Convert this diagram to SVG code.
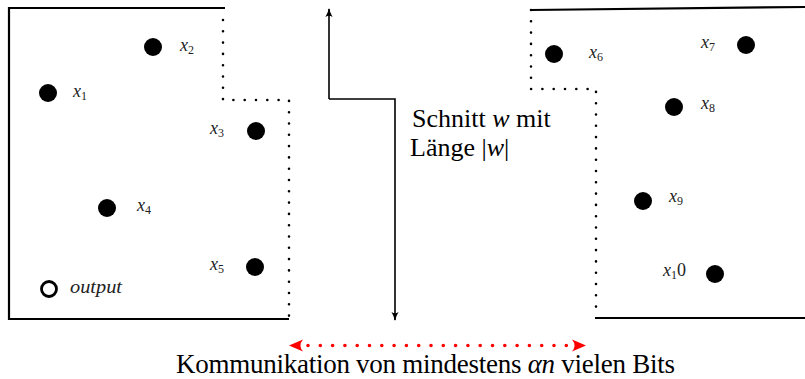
<svg xmlns="http://www.w3.org/2000/svg" width="805" height="379" viewBox="0 0 805 379">
<style>
.frame{fill:none;stroke:#000;stroke-width:2.2}
.dots{fill:none;stroke:#000;stroke-width:2.6;stroke-linecap:round;stroke-dasharray:0 11.3}
.node{fill:#000}
.lbl{font-family:"Liberation Serif",serif;font-style:italic;font-size:18px;fill:#222}
.sub{font-size:12px;font-style:normal}
.txt{font-family:"Liberation Serif",serif;font-size:27px;fill:#000}
.cut-txt{font-family:"Liberation Serif",serif;font-size:26px;fill:#000}
.m{font-style:italic}
.cut{fill:none;stroke:#000;stroke-width:1.6}
.red{fill:none;stroke:#f00;stroke-width:3.6;stroke-linecap:round;stroke-dasharray:0 12.3}
</style>
<defs>
<marker id="ah" viewBox="0 0 10 10" refX="9" refY="5" markerWidth="9" markerHeight="9" markerUnits="userSpaceOnUse" orient="auto">
<path d="M0,1 Q5,4 10,5 Q5,6 0,9 Q3,5 0,1 Z" fill="#000"/>
</marker>
</defs>
<g id="left-region">
<path class="frame" d="M225,8 H9 V319 H289"/>
<path class="dots" d="M223,20 V100 H289 V319"/>
</g>
<g id="right-region">
<path class="frame" d="M531,10 L805,7"/>
<path class="frame" d="M595,318 H805"/>
<path class="dots" d="M531,10 V89 H596 V310"/>
</g>
<g id="x1"><circle class="node" cx="48" cy="93" r="9"/><text class="lbl" x="73" y="97">x<tspan class="sub" dy="3">1</tspan></text></g>
<g id="x2"><circle class="node" cx="153" cy="47" r="9"/><text class="lbl" x="180" y="51">x<tspan class="sub" dy="3">2</tspan></text></g>
<g id="x3"><circle class="node" cx="256" cy="131" r="9"/><text class="lbl" x="210" y="134">x<tspan class="sub" dy="3">3</tspan></text></g>
<g id="x4"><circle class="node" cx="107" cy="208" r="9"/><text class="lbl" x="137" y="211">x<tspan class="sub" dy="3">4</tspan></text></g>
<g id="x5"><circle class="node" cx="255" cy="267" r="9"/><text class="lbl" x="210" y="270">x<tspan class="sub" dy="3">5</tspan></text></g>
<g id="output"><circle cx="49" cy="289" r="7.5" fill="none" stroke="#000" stroke-width="2.8"/><text class="lbl" x="70" y="293" textLength="52" lengthAdjust="spacingAndGlyphs">output</text></g>
<g id="x6"><circle class="node" cx="554" cy="54" r="9"/><text class="lbl" x="589" y="58">x<tspan class="sub" dy="3">6</tspan></text></g>
<g id="x7"><circle class="node" cx="746" cy="45" r="9"/><text class="lbl" x="701" y="48">x<tspan class="sub" dy="3">7</tspan></text></g>
<g id="x8"><circle class="node" cx="674" cy="107" r="9"/><text class="lbl" x="701" y="109">x<tspan class="sub" dy="3">8</tspan></text></g>
<g id="x9"><circle class="node" cx="643" cy="201" r="9"/><text class="lbl" x="669" y="202">x<tspan class="sub" dy="3">9</tspan></text></g>
<g id="x10"><circle class="node" cx="715" cy="274" r="9"/><text class="lbl" x="663" y="276">x<tspan class="sub" dy="3">1</tspan><tspan font-style="normal" dy="-3">0</tspan></text></g>
<g id="connectors">
<path class="cut" d="M329,99 V9" marker-end="url(#ah)"/>
<path class="cut" d="M329,99 H395 V320" marker-end="url(#ah)"/>
<path class="red" d="M308,345.5 H570"/>
<path d="M289,345.5 L303,339.5 Q298,345.5 303,351.5 Z" fill="#f00"/>
<path d="M586,345.5 L572,339.5 Q577,345.5 572,351.5 Z" fill="#f00"/>
</g>
<g id="labels">
<text class="cut-txt" x="412" y="127">Schnitt <tspan class="m">w</tspan> mit</text>
<text class="cut-txt" x="410" y="156">Länge |<tspan class="m">w</tspan>|</text>
<text class="txt" x="176" y="373" textLength="499">Kommunikation von mindestens <tspan class="m">αn</tspan> vielen Bits</text>
</g>
</svg>
